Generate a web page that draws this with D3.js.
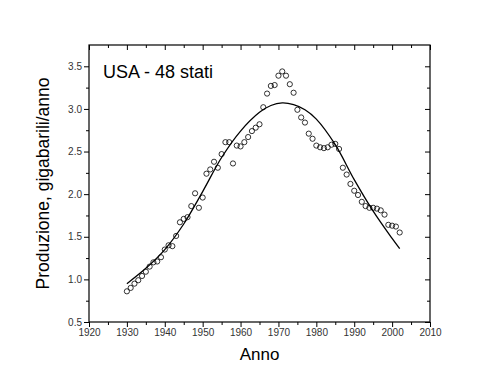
<!DOCTYPE html>
<html>
<head>
<meta charset="utf-8">
<script src="https://cdn.jsdelivr.net/npm/d3@7"></script>
<style>
  body { margin: 0; background: #fff; }
  text { font-family: Arial, "Liberation Sans", sans-serif; }
</style>
</head>
<body>
<div id="chart"></div>
<script>
// production data (gigabarili/anno), one point per year
const years = d3.range(1930, 2003);
const production = [
    0.86, 0.90, 0.95, 0.99, 1.04, 1.09, 1.15, 1.20, 1.21, 1.26,
    1.35, 1.40, 1.39, 1.51, 1.67, 1.71, 1.73, 1.86, 2.01, 1.84,
    1.96, 2.24, 2.29, 2.38, 2.31, 2.47, 2.61, 2.61, 2.36, 2.57,
    2.56, 2.61, 2.67, 2.74, 2.78, 2.82, 3.02, 3.18, 3.27, 3.28,
    3.39, 3.44, 3.39, 3.29, 3.19, 2.99, 2.90, 2.84, 2.71, 2.65,
    2.57, 2.55, 2.54, 2.55, 2.58, 2.59, 2.53, 2.31, 2.23, 2.12,
    2.04, 1.99, 1.91, 1.86, 1.84, 1.84, 1.83, 1.81, 1.76, 1.64,
    1.63, 1.62, 1.55
];

// fitted curve
const fitYears = [1930, 1935, 1940, 1945, 1950, 1955, 1960, 1965, 1968, 1971,
    1974, 1977, 1980, 1985, 1990, 1995, 2000, 2002];
const fitValues = [0.95, 1.13, 1.35, 1.65, 2.03, 2.43, 2.74, 2.96, 3.04, 3.07,
    3.05, 2.99, 2.88, 2.58, 2.17, 1.80, 1.48, 1.36];

const xTicks = d3.range(1920, 2011, 10);
const yTicks = [0.5, 1.0, 1.5, 2.0, 2.5, 3.0, 3.5];

const settings = { width: 500, height: 386, elId: '#chart' };
const margin = { top: 45, right: 70, bottom: 64, left: 89 };
const innerW = settings.width - margin.left - margin.right;
const innerH = settings.height - margin.top - margin.bottom;

const svg = d3.select(settings.elId)
    .append('svg')
    .attr('width', settings.width)
    .attr('height', settings.height);

const g = svg.append('g')
    .attr('transform', `translate(${margin.left},${margin.top})`);

const x = d3.scaleLinear().domain([1920, 2010]).range([0, innerW]);
const y = d3.scaleLinear().domain([0.5, 3.75]).range([innerH, 0]);

const minorX = d3.range(1925, 2010, 10);
const minorY = d3.range(0.75, 3.75, 0.5);

function styleAxis(sel) {
    sel.select('.domain').remove();
    sel.selectAll('line').attr('stroke', '#000').attr('stroke-width', 1);
    sel.selectAll('text')
        .attr('font-size', 10)
        .attr('fill', '#333')
        .style('font-family', 'Arial, "Liberation Sans", sans-serif');
}

// bottom axis (outward ticks)
g.append('g')
    .attr('transform', `translate(0,${innerH})`)
    .call(d3.axisBottom(x).tickValues(xTicks).tickFormat(d3.format('d')).tickSize(5).tickPadding(2))
    .call(styleAxis);
g.append('g')
    .attr('transform', `translate(0,${innerH})`)
    .call(d3.axisBottom(x).tickValues(minorX).tickFormat('').tickSize(3))
    .call(styleAxis);

// left axis (outward ticks)
g.append('g')
    .call(d3.axisLeft(y).tickValues(yTicks).tickFormat(d3.format('.1f')).tickSize(5).tickPadding(2))
    .call(styleAxis);
g.append('g')
    .call(d3.axisLeft(y).tickValues(minorY).tickFormat('').tickSize(3))
    .call(styleAxis);

// top and right mirrored ticks (inward)
g.append('g')
    .call(d3.axisTop(x).tickValues(xTicks).tickFormat('').tickSize(-5))
    .call(styleAxis);
g.append('g')
    .call(d3.axisTop(x).tickValues(minorX).tickFormat('').tickSize(-3))
    .call(styleAxis);
g.append('g')
    .attr('transform', `translate(${innerW},0)`)
    .call(d3.axisRight(y).tickValues(yTicks).tickFormat('').tickSize(-5))
    .call(styleAxis);
g.append('g')
    .attr('transform', `translate(${innerW},0)`)
    .call(d3.axisRight(y).tickValues(minorY).tickFormat('').tickSize(-3))
    .call(styleAxis);

// frame
g.append('rect')
    .attr('width', innerW)
    .attr('height', innerH)
    .attr('fill', 'none')
    .attr('stroke', '#000')
    .attr('stroke-width', 1.2);

// fitted curve
const line = d3.line()
    .x((d, i) => x(fitYears[i]))
    .y(d => y(d))
    .curve(d3.curveCatmullRom);

g.append('path')
    .datum(fitValues)
    .attr('d', line)
    .attr('fill', 'none')
    .attr('stroke', '#000')
    .attr('stroke-width', 1.3);

// data points
g.selectAll('.pt')
    .data(production)
    .enter()
    .append('circle')
    .attr('class', 'pt')
    .attr('cx', (d, i) => x(years[i]))
    .attr('cy', d => y(d))
    .attr('r', 2.6)
    .attr('fill', 'none')
    .attr('stroke', '#000')
    .attr('stroke-width', 0.8);

// labels
g.append('text')
    .text('USA - 48 stati')
    .attr('x', 14)
    .attr('y', 33)
    .attr('font-size', 18)
    .attr('fill', '#000');

svg.append('text')
    .text('Anno')
    .attr('x', margin.left + innerW / 2)
    .attr('y', 360)
    .attr('text-anchor', 'middle')
    .attr('font-size', 17)
    .attr('fill', '#000');

svg.append('text')
    .text('Produzione, gigabarili/anno')
    .attr('transform', `translate(49,${margin.top + innerH / 2}) rotate(-90)`)
    .attr('text-anchor', 'middle')
    .attr('font-size', 17.5)
    .attr('fill', '#000');
</script>
</body>
</html>
